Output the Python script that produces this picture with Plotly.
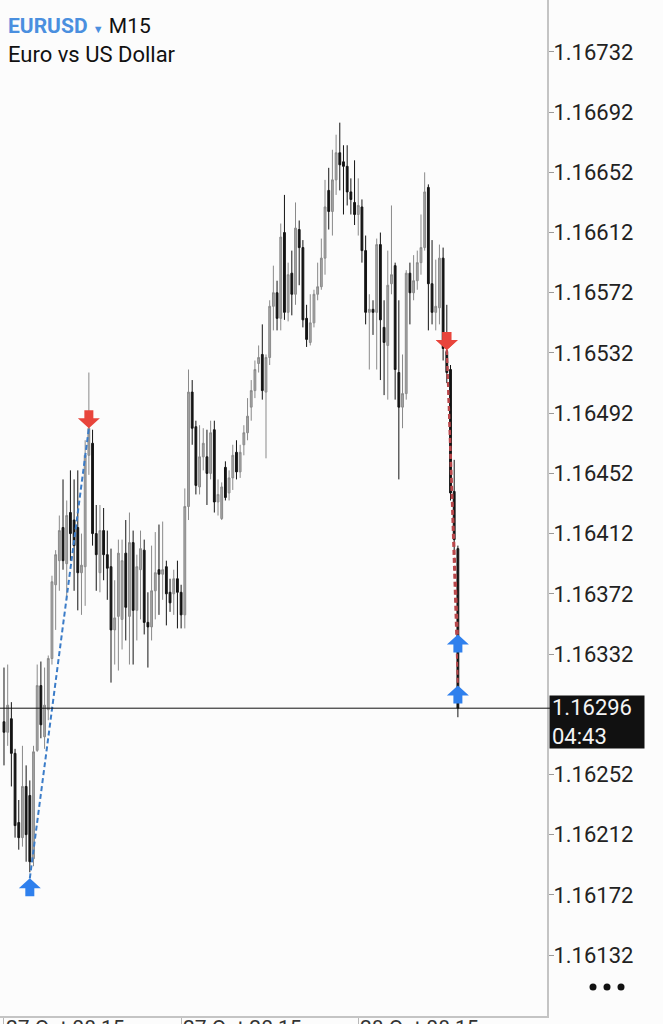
import plotly.graph_objects as go

# ---------------- data (EURUSD M15) ----------------
bars = list(range(124))  # bar 0 = 27 Oct 08:15, 15-minute bars

open_ = [1.16287, 1.16280, 1.16289, 1.16266, 1.16220, 1.16210, 1.16244, 1.16238, 1.16196, 1.16268,
         1.16311, 1.16277, 1.16295, 1.16329, 1.16378, 1.16394, 1.16416, 1.16392, 1.16426, 1.16421,
         1.16416, 1.16386, 1.16390, 1.16464, 1.16472, 1.16412, 1.16386, 1.16414, 1.16398, 1.16390,
         1.16348, 1.16357, 1.16355, 1.16399, 1.16357, 1.16406, 1.16361, 1.16388, 1.16401, 1.16353,
         1.16350, 1.16374, 1.16388, 1.16385, 1.16390, 1.16373, 1.16372, 1.16382, 1.16373, 1.16358,
         1.16430, 1.16506, 1.16483, 1.16443, 1.16463, 1.16463, 1.16452, 1.16481, 1.16433, 1.16422,
         1.16456, 1.16439, 1.16449, 1.16466, 1.16453, 1.16471, 1.16479, 1.16496, 1.16507, 1.16525,
         1.16531, 1.16506, 1.16529, 1.16563, 1.16572, 1.16555, 1.16612, 1.16559, 1.16585, 1.16571,
         1.16614, 1.16602, 1.16555, 1.16539, 1.16552, 1.16571, 1.16576, 1.16595, 1.16640, 1.16626,
         1.16647, 1.16665, 1.16659, 1.16656, 1.16639, 1.16632, 1.16624, 1.16629, 1.16600, 1.16559,
         1.16561, 1.16559, 1.16604, 1.16549, 1.16537, 1.16578, 1.16590, 1.16519, 1.16496, 1.16505,
         1.16585, 1.16572, 1.16580, 1.16592, 1.16602, 1.16642, 1.16578, 1.16559, 1.16562, 1.16595,
         1.16533, 1.16521, 1.16440, 1.16402]

high = [1.16323, 1.16325, 1.16300, 1.16269, 1.16235, 1.16271, 1.16258, 1.16248, 1.16271, 1.16325,
        1.16327, 1.16323, 1.16331, 1.16384, 1.16401, 1.16424, 1.16448, 1.16434, 1.16454, 1.16448,
        1.16454, 1.16412, 1.16474, 1.16519, 1.16481, 1.16431, 1.16431, 1.16429, 1.16414, 1.16402,
        1.16381, 1.16408, 1.16408, 1.16421, 1.16426, 1.16414, 1.16398, 1.16414, 1.16408, 1.16373,
        1.16404, 1.16413, 1.16418, 1.16420, 1.16394, 1.16382, 1.16388, 1.16394, 1.16378, 1.16442,
        1.16521, 1.16514, 1.16487, 1.16484, 1.16482, 1.16481, 1.16487, 1.16487, 1.16448, 1.16446,
        1.16460, 1.16454, 1.16471, 1.16474, 1.16471, 1.16484, 1.16502, 1.16514, 1.16527, 1.16537,
        1.16551, 1.16531, 1.16567, 1.16590, 1.16580, 1.16618, 1.16637, 1.16592, 1.16600, 1.16632,
        1.16620, 1.16607, 1.16564, 1.16571, 1.16574, 1.16592, 1.16608, 1.16647, 1.16655, 1.16667,
        1.16677, 1.16685, 1.16670, 1.16670, 1.16648, 1.16660, 1.16648, 1.16634, 1.16610, 1.16571,
        1.16567, 1.16608, 1.16612, 1.16567, 1.16600, 1.16630, 1.16592, 1.16567, 1.16531, 1.16587,
        1.16592, 1.16597, 1.16600, 1.16624, 1.16652, 1.16644, 1.16607, 1.16594, 1.16604, 1.16602,
        1.16564, 1.16524, 1.16461, 1.16404]

low = [1.16258, 1.16271, 1.16244, 1.16210, 1.16202, 1.16204, 1.16194, 1.16187, 1.16191, 1.16267,
       1.16276, 1.16269, 1.16288, 1.16325, 1.16348, 1.16374, 1.16388, 1.16368, 1.16394, 1.16374,
       1.16361, 1.16358, 1.16364, 1.16451, 1.16404, 1.16374, 1.16373, 1.16381, 1.16368, 1.16313,
       1.16325, 1.16321, 1.16335, 1.16341, 1.16325, 1.16325, 1.16341, 1.16355, 1.16345, 1.16323,
       1.16341, 1.16355, 1.16358, 1.16368, 1.16351, 1.16360, 1.16358, 1.16349, 1.16349, 1.16349,
       1.16421, 1.16471, 1.16438, 1.16438, 1.16454, 1.16431, 1.16448, 1.16426, 1.16424, 1.16421,
       1.16434, 1.16434, 1.16441, 1.16448, 1.16449, 1.16464, 1.16474, 1.16487, 1.16502, 1.16519,
       1.16501, 1.16462, 1.16524, 1.16547, 1.16547, 1.16547, 1.16554, 1.16553, 1.16557, 1.16564,
       1.16577, 1.16549, 1.16536, 1.16537, 1.16549, 1.16567, 1.16574, 1.16584, 1.16614, 1.16610,
       1.16637, 1.16640, 1.16624, 1.16630, 1.16624, 1.16617, 1.16610, 1.16592, 1.16551, 1.16521,
       1.16544, 1.16521, 1.16514, 1.16504, 1.16501, 1.16571, 1.16501, 1.16448, 1.16482, 1.16501,
       1.16551, 1.16567, 1.16574, 1.16584, 1.16600, 1.16547, 1.16551, 1.16547, 1.16551, 1.16527,
       1.16512, 1.16434, 1.16398, 1.16290]

close = [1.16280, 1.16298, 1.16266, 1.16218, 1.16210, 1.16244, 1.16212, 1.16194, 1.16267, 1.16311,
         1.16285, 1.16298, 1.16329, 1.16380, 1.16398, 1.16414, 1.16394, 1.16424, 1.16412, 1.16404,
         1.16386, 1.16391, 1.16464, 1.16482, 1.16412, 1.16398, 1.16414, 1.16398, 1.16389, 1.16348,
         1.16356, 1.16399, 1.16394, 1.16363, 1.16406, 1.16361, 1.16390, 1.16402, 1.16353, 1.16350,
         1.16374, 1.16386, 1.16385, 1.16388, 1.16372, 1.16366, 1.16382, 1.16373, 1.16358, 1.16430,
         1.16506, 1.16482, 1.16444, 1.16463, 1.16472, 1.16452, 1.16479, 1.16433, 1.16438, 1.16443,
         1.16436, 1.16449, 1.16464, 1.16453, 1.16466, 1.16479, 1.16490, 1.16507, 1.16521, 1.16529,
         1.16507, 1.16529, 1.16563, 1.16572, 1.16555, 1.16609, 1.16559, 1.16584, 1.16571, 1.16615,
         1.16602, 1.16554, 1.16541, 1.16552, 1.16571, 1.16576, 1.16595, 1.16629, 1.16626, 1.16647,
         1.16665, 1.16657, 1.16656, 1.16639, 1.16634, 1.16624, 1.16630, 1.16600, 1.16559, 1.16561,
         1.16559, 1.16604, 1.16554, 1.16539, 1.16577, 1.16584, 1.16521, 1.16496, 1.16505, 1.16585,
         1.16572, 1.16580, 1.16592, 1.16602, 1.16639, 1.16578, 1.16559, 1.16563, 1.16595, 1.16535,
         1.16519, 1.16439, 1.16408, 1.16296]

# trade history: (open bar, open price) -> (close bar, close price)
trade_type = ["buy", "sell", "sell"]
trade_open_bar = [7, 120, 120]
trade_open_price = [1.16183, 1.16534, 1.16534]
trade_close_bar = [23, 123, 123]
trade_close_price = [1.16482, 1.16345, 1.16311]

# price scale labels (1.16292 is hidden behind the current-price box)
price_ticks = [1.16132, 1.16172, 1.16212, 1.16252, 1.16332, 1.16372, 1.16412,
               1.16452, 1.16492, 1.16532, 1.16572, 1.16612, 1.16652, 1.16692, 1.16732]
time_tick_bars = [0, 48, 96]
time_tick_labels = ["27 Oct 08:15", "27 Oct 20:15", "28 Oct 08:15"]

last_price = 1.16296
bar_timer = "04:43"
symbol = "EURUSD"
timeframe = "M15"
description = "Euro vs US Dollar"

# ---------------- styling ----------------
FONT = "Roboto"
BG = "#fcfcfc"
BLUE = "#2f80ed"
RED = "#e8453c"

fig = go.Figure()

fig.add_trace(go.Candlestick(
    x=bars, open=open_, high=high, low=low, close=close,
    increasing=dict(line=dict(color="#8a8a8a", width=1), fillcolor="#a6a6a6"),
    decreasing=dict(line=dict(color="#141414", width=1), fillcolor="#141414"),
    whiskerwidth=0, hoverinfo="skip", showlegend=False,
))

# dashed trade lines (from the open to the close of each trade)
for t, ob, op, cb, cp in zip(trade_type, trade_open_bar, trade_open_price,
                             trade_close_bar, trade_close_price):
    col = "#3b7cc8" if t == "buy" else "#b9474b"
    fig.add_trace(go.Scatter(x=[ob, cb], y=[op, cp], mode="lines",
                             line=dict(color=col, width=2, dash="5px,3px"),
                             hoverinfo="skip", showlegend=False))

shapes = []
up_path = "M 0 0 L 11 -10 L 4.5 -10 L 4.5 -18 L -4.5 -18 L -4.5 -10 L -11 -10 Z"
down_path = "M 0 0 L 11 10 L 4.5 10 L 4.5 18 L -4.5 18 L -4.5 10 L -11 10 Z"


def arrow(bar, price, up):
    return dict(type="path", xref="x", yref="y", xsizemode="pixel", ysizemode="pixel",
                xanchor=bar, yanchor=price, path=up_path if up else down_path,
                fillcolor=BLUE if up else RED, line=dict(width=0), layer="above")


for t, ob, op, cb, cp in zip(trade_type, trade_open_bar, trade_open_price,
                             trade_close_bar, trade_close_price):
    shapes.append(arrow(ob, op, t == "buy"))
    shapes.append(arrow(cb, cp, t != "buy"))

# current price line
shapes.append(dict(type="line", xref="paper", yref="y", x0=0, x1=1.009,
                   y0=last_price, y1=last_price, line=dict(color="#111111", width=1),
                   layer="above"))

# menu dots
for px in [593, 607, 621]:
    shapes.append(dict(type="circle", xref="paper", yref="paper", xsizemode="pixel",
                       ysizemode="pixel", xanchor=px / 547, yanchor=(1016 - 987) / 1016,
                       x0=-3.5, x1=3.5, y0=-3.5, y1=3.5, fillcolor="#111111",
                       line=dict(width=0)))

annotations = [
    dict(xref="paper", yref="paper", x=0, y=1, xanchor="left", yanchor="top",
         xshift=6, yshift=-12, showarrow=False, align="left",
         text=(f"<span style='color:#4a8fdf'><b>{symbol}</b></span> "
               f"<span style='color:#4a8fdf;font-size:11px'>▼</span> {timeframe}"),
         font=dict(family=FONT, size=21, color="#111111")),
    dict(xref="paper", yref="paper", x=0, y=1, xanchor="left", yanchor="top",
         xshift=6, yshift=-40, showarrow=False, align="left", text=description,
         font=dict(family=FONT, size=22, color="#111111")),
    dict(xref="paper", yref="y", x=1, y=last_price, xanchor="left", yanchor="top",
         xshift=2, yshift=13, showarrow=False, align="left",
         text=f"{last_price:.5f}<br>{bar_timer}", bgcolor="#111111",
         width=90, height=48, borderpad=2,
         font=dict(family=FONT, size=22, color="#f4f4f4")),
]
for b, lab in zip(time_tick_bars, time_tick_labels):
    annotations.append(dict(xref="x", yref="paper", x=b, y=0, xanchor="left",
                            yanchor="top", xshift=0, yshift=2, showarrow=False,
                            text=lab, font=dict(family=FONT, size=21, color="#333333")))

fig.update_layout(
    width=663, height=1024,
    margin=dict(l=0, r=116, t=0, b=8),
    paper_bgcolor=BG, plot_bgcolor=BG,
    showlegend=False, hovermode=False,
    shapes=shapes, annotations=annotations,
    xaxis=dict(range=[-1.08, 147.15], rangeslider=dict(visible=False),
               showgrid=False, zeroline=False, showline=True, linecolor="#c4c4c4",
               linewidth=2, tickvals=time_tick_bars, ticks="outside", ticklen=6,
               tickcolor="#b8b8b8", tickwidth=1, showticklabels=False, fixedrange=True),
    yaxis=dict(range=[1.160915, 1.167665], side="right", showgrid=False, zeroline=False,
               showline=True, linecolor="#c4c4c4", linewidth=2,
               tickvals=price_ticks, ticktext=[f"{v:.5f}" for v in price_ticks],
               ticks="outside", ticklen=5, tickcolor="#9a9a9a", tickwidth=1,
               ticklabelstandoff=-5,
               tickfont=dict(family=FONT, size=22, color="#222222"), fixedrange=True),
)

fig.write_html("out.html",
               config={"displayModeBar": False, "staticPlot": True},
               post_script="document.body.style.margin='0px';"
                           "document.body.style.overflow='hidden';"
                           f"document.body.style.background='{BG}';")
